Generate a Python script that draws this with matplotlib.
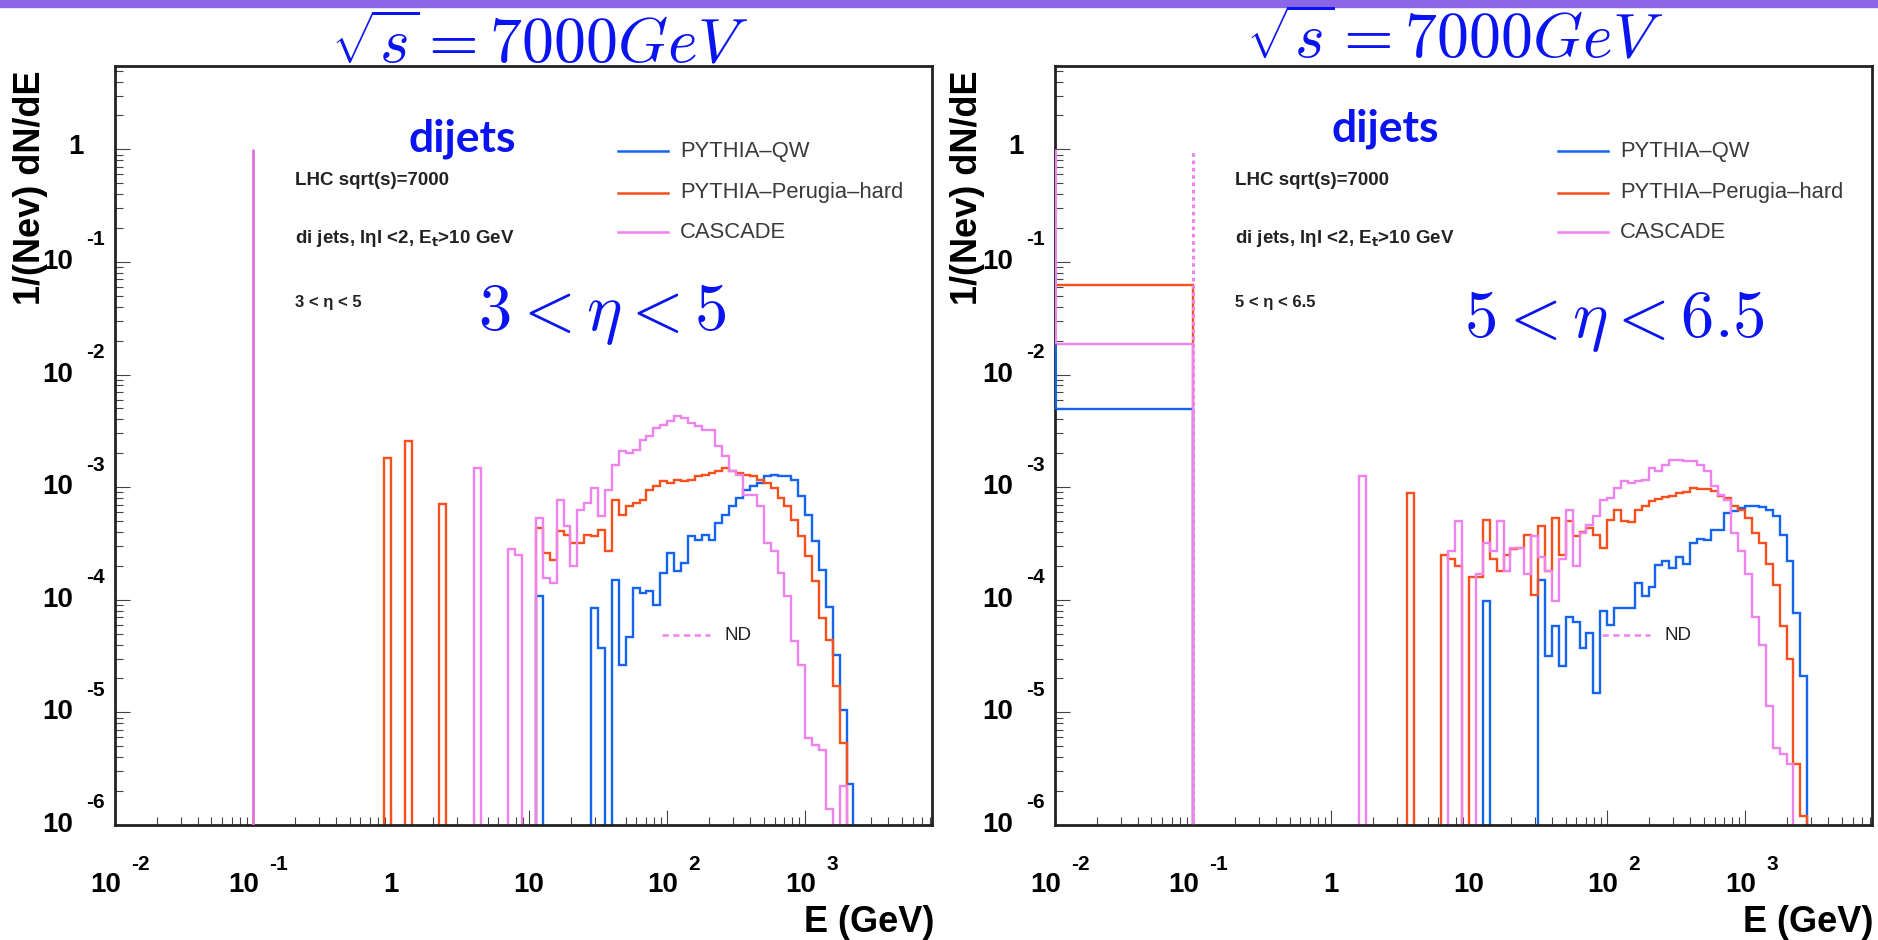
import numpy as np
import matplotlib
matplotlib.use('Agg')
import matplotlib.pyplot as plt
from matplotlib.ticker import LogLocator, NullFormatter
from matplotlib.transforms import offset_copy
from matplotlib.patches import Rectangle

plt.rcParams['font.family'] = ['Liberation Sans', 'DejaVu Sans']

# ---------------------------------------------------------------- data
# binning: 20 bins per decade in log10(E/GeV), from -0.05 to 3.50
log_e_min, log_e_max, n_bins = -0.05, 3.50, 71
edges = np.logspace(log_e_min, log_e_max, n_bins + 1)

# 3 < eta < 5
qw_3_5 = [0, 0, 0, 0, 0, 0, 0, 0, 0, 0,
          0, 0, 0, 0, 0, 0, 0, 0, 0, 0,
          0, 0, 1.07e-4, 0, 0, 0, 0, 0, 0, 0,
          8.4e-5, 3.7e-5, 0, 1.51e-4, 2.64e-5, 4.7e-5, 1.27e-4, 1.15e-4, 1.19e-4, 9.0e-5,
          1.73e-4, 2.6e-4, 1.79e-4, 2.12e-4, 3.66e-4, 3.41e-4, 3.79e-4, 3.41e-4, 4.8e-4, 5.7e-4,
          6.76e-4, 8.0e-4, 9.5e-4, 1.02e-3, 1.09e-3, 1.25e-3, 1.29e-3, 1.25e-3, 1.25e-3, 1.17e-3,
          8.3e-4, 5.7e-4, 3.3e-4, 1.85e-4, 8.7e-5, 3.24e-5, 1.05e-5, 2.3e-6, 0, 0,
          0]
perugia_3_5 = [1.8e-3, 0, 0, 2.55e-3, 0, 0, 0, 0, 7.1e-4, 0,
               0, 0, 0, 0, 0, 0, 0, 0, 0, 0,
               0, 0, 4.34e-4, 2.6e-4, 2.27e-4, 4.05e-4, 3.79e-4, 3.19e-4, 3.19e-4, 3.79e-4,
               3.66e-4, 4.19e-4, 2.69e-4, 7.75e-4, 5.7e-4, 6.76e-4, 7.2e-4, 7.75e-4, 9.5e-4, 1.02e-3,
               1.13e-3, 1.09e-3, 1.17e-3, 1.13e-3, 1.17e-3, 1.25e-3, 1.27e-3, 1.34e-3, 1.38e-3, 1.48e-3,
               1.38e-3, 1.34e-3, 1.29e-3, 1.25e-3, 1.17e-3, 1.09e-3, 9.8e-4, 8.0e-4, 6.76e-4, 5.14e-4,
               3.66e-4, 2.43e-4, 1.46e-4, 6.9e-5, 4.4e-5, 1.7e-5, 5.3e-6, 0, 0, 0,
               0]
cascade_3_5 = [0, 0, 0, 0, 0, 0, 0, 0, 0, 0,
               0, 0, 0, 1.48e-3, 0, 0, 0, 0, 2.8e-4, 2.5e-4,
               0, 0, 5.3e-4, 1.56e-4, 1.41e-4, 7.75e-4, 4.5e-4, 1.98e-4, 6.3e-4, 7.2e-4,
               9.8e-4, 5.5e-4, 9.5e-4, 1.58e-3, 2.08e-3, 2.01e-3, 2.15e-3, 2.64e-3, 2.83e-3, 3.36e-3,
               3.6e-3, 3.85e-3, 4.27e-3, 4.12e-3, 3.72e-3, 3.48e-3, 3.24e-3, 3.24e-3, 2.31e-3, 1.88e-3,
               1.38e-3, 1.29e-3, 8.6e-4, 8.6e-4, 6.76e-4, 3.19e-4, 2.69e-4, 1.73e-4, 1.07e-4, 4.3e-5,
               2.64e-5, 5.9e-6, 5.1e-6, 4.6e-6, 1.4e-6, 0, 2.2e-6, 0, 0, 0,
               0]

# 5 < eta < 6.5
qw_5_65 = [0, 0, 0, 0, 0, 0, 0, 0, 0, 0,
           0, 0, 0, 0, 0, 0, 0, 0, 0, 0,
           0, 0, 0, 9.7e-5, 0, 0, 0, 0, 0, 0,
           0, 1.5e-4, 3.2e-5, 5.8e-5, 2.6e-5, 7.1e-5, 6.4e-5, 3.7e-5, 5.1e-5, 1.5e-5,
           7.9e-5, 6.0e-5, 8.4e-5, 8.4e-5, 8.4e-5, 1.4e-4, 1.07e-4, 1.3e-4, 2.05e-4, 2.2e-4,
           1.9e-4, 2.4e-4, 2.1e-4, 3.2e-4, 3.5e-4, 3.4e-4, 4.2e-4, 4.2e-4, 5.9e-4, 6.1e-4,
           6.5e-4, 6.8e-4, 6.8e-4, 6.7e-4, 6.3e-4, 5.5e-4, 3.8e-4, 2.2e-4, 7.6e-5, 2.1e-5,
           0]
perugia_5_65 = [0, 0, 0, 0, 0, 0, 0, 0, 0, 0,
                0, 0, 8.9e-4, 0, 0, 0, 0, 2.5e-4, 2.3e-4, 2.0e-4,
                0, 1.6e-4, 1.6e-4, 5.1e-4, 2.3e-4, 1.8e-4, 2.5e-4, 2.8e-4, 2.9e-4, 3.8e-4,
                1.1e-4, 4.5e-4, 1.8e-4, 5.3e-4, 2.5e-4, 5.0e-4, 3.7e-4, 4.0e-4, 4.3e-4, 3.8e-4,
                2.9e-4, 5.1e-4, 6.3e-4, 5.0e-4, 4.9e-4, 6.3e-4, 6.8e-4, 7.5e-4, 7.9e-4, 8.2e-4,
                8.3e-4, 8.9e-4, 9.0e-4, 9.8e-4, 9.6e-4, 9.6e-4, 9.2e-4, 8.3e-4, 8.0e-4, 6.8e-4,
                6.3e-4, 5.3e-4, 3.9e-4, 3.2e-4, 2.1e-4, 1.36e-4, 5.8e-5, 3.0e-5, 3.5e-6, 1.2e-6,
                0]
cascade_5_65 = [0, 0, 0, 0, 0, 1.25e-3, 0, 0, 0, 0,
                0, 0, 0, 0, 0, 0, 0, 0, 2.7e-4, 5.0e-4,
                0, 0, 1.7e-4, 3.2e-4, 2.7e-4, 5.0e-4, 1.8e-4, 2.9e-4, 2.9e-4, 1.7e-4,
                3.7e-4, 2.4e-4, 1.8e-4, 9.7e-5, 2.3e-4, 6.3e-4, 2.0e-4, 3.9e-4, 4.6e-4, 5.5e-4,
                7.7e-4, 8.0e-4, 9.8e-4, 1.13e-3, 1.09e-3, 1.13e-3, 1.17e-3, 1.48e-3, 1.38e-3, 1.58e-3,
                1.75e-3, 1.75e-3, 1.70e-3, 1.70e-3, 1.58e-3, 1.38e-3, 1.02e-3, 8.6e-4, 7.7e-4, 3.9e-4,
                2.7e-4, 1.7e-4, 7.1e-5, 4.0e-5, 1.13e-5, 4.8e-6, 4.3e-6, 3.5e-6, 0, 0,
                0]

# lowest bin (E < 0.1 GeV), filled only for 5 < eta < 6.5
low_bin_edges = [0.005, 0.1]
qw_5_65_low = 4.9e-3
perugia_5_65_low = 0.063
cascade_5_65_low = 0.0187

# ND entry: spike at 0.1 GeV
nd_energy = 0.1
nd_peak = 1.0

series_names = ['PYTHIA\u2013QW', 'PYTHIA\u2013Perugia\u2013hard', 'CASCADE']
series_colors = ['#1464f0', '#f5501e', '#ee82ee']

x_tick_exps = [-2, -1, 0, 1, 2, 3]
y_tick_exps = [0, -1, -2, -3, -4, -5, -6]
x_range = (1e-2, 8300)
y_range = (1e-6, 5.5)

eta_small = ['3 < \u03b7 < 5', '5 < \u03b7 < 6.5']
eta_big = [r'$3 < \eta < 5$', r'$5 < \eta < 6.5$']

# ---------------------------------------------------------------- layout
W, H = 1878, 940
fig = plt.figure(figsize=(W / 100, H / 100), dpi=100)
fig.patches.append(Rectangle((0, 1 - 7 / H), 1, 7 / H, transform=fig.transFigure,
                             color='#8b67e8', zorder=0))

AX_TOP, AX_BOT = 66, 825
ax_lefts = [115, 1055]
ax_w = 817

BLUE_TXT = '#0a14f0'
FLOOR = 1e-8
LW = 1.7


def tick_labels(ax):
    xt = ax.get_xaxis_transform()
    yt = ax.get_yaxis_transform()
    for e in x_tick_exps:
        x = 10.0 ** e
        if e in (0, 1):
            ax.text(x, 0, '1' if e == 0 else '10', fontsize=20, fontweight='bold',
                    ha='center', va='center',
                    transform=offset_copy(xt, fig, x=0, y=-60, units='dots'))
        else:
            dx = 6 if e < 0 else 11
            ax.text(x, 0, '10', fontsize=20, fontweight='bold', ha='right', va='center',
                    transform=offset_copy(xt, fig, x=dx, y=-60, units='dots'))
            ax.text(x, 0, str(e), fontsize=15, fontweight='bold', ha='left', va='center',
                    transform=offset_copy(xt, fig, x=dx + 10, y=-39, units='dots'))
    for e in y_tick_exps:
        y = 10.0 ** e
        if e == 0:
            ax.text(0, y, '1', fontsize=20, fontweight='bold', ha='center', va='center',
                    transform=offset_copy(yt, fig, x=-39, y=2, units='dots'))
        else:
            ax.text(0, y, '10', fontsize=20, fontweight='bold', ha='right', va='center',
                    transform=offset_copy(yt, fig, x=-42, y=0, units='dots'))
            ax.text(0, y, str(e), fontsize=15, fontweight='bold', ha='left', va='center',
                    transform=offset_copy(yt, fig, x=-29, y=22, units='dots'))


def draw_panel(i, qw, perugia, cascade, low=None):
    left = ax_lefts[i]
    ax = fig.add_axes([left / W, (H - AX_BOT) / H, ax_w / W, (AX_BOT - AX_TOP) / H])
    ax.set_xscale('log')
    ax.set_yscale('log')

    for vals, col in zip([qw, perugia, cascade], series_colors):
        v = np.clip(np.asarray(vals, dtype=float), FLOOR, None)
        ax.stairs(v, edges, baseline=FLOOR, color=col, lw=LW, zorder=2)

    if low is not None:
        for val, col in zip(low, series_colors):
            ax.stairs([val], low_bin_edges, baseline=FLOOR, color=col, lw=LW, zorder=2)
        # left edge of the first bin, drawn over the frame
        ax.vlines(x_range[0], low[0], low[2], color=series_colors[0], lw=LW + 0.5, zorder=4)
        ax.vlines(x_range[0], low[2], nd_peak, color=series_colors[2], lw=LW + 0.5, zorder=4)
        ax.vlines(nd_energy, FLOOR, nd_peak, color=series_colors[2], lw=2.2,
                  linestyles=(0, (1.2, 1.2)), zorder=3)
    else:
        ax.vlines(nd_energy, FLOOR, nd_peak, color='#e070e0', lw=2.0, zorder=3)

    ax.set_xlim(*x_range)
    ax.set_ylim(*y_range)

    ax.xaxis.set_major_locator(LogLocator(base=10, numticks=20))
    ax.xaxis.set_minor_locator(LogLocator(base=10, subs=np.arange(2, 10), numticks=20))
    ax.yaxis.set_major_locator(LogLocator(base=10, numticks=20))
    ax.yaxis.set_minor_locator(LogLocator(base=10, subs=np.arange(2, 10), numticks=20))
    for a in (ax.xaxis, ax.yaxis):
        a.set_major_formatter(NullFormatter())
        a.set_minor_formatter(NullFormatter())
    ax.tick_params(which='both', direction='in', top=False, right=False,
                   color='#444444', width=0.8)
    ax.tick_params(which='major', length=10.5)
    ax.tick_params(which='minor', length=5.5)
    for s in ax.spines.values():
        s.set_linewidth(2.0)
        s.set_color('#222222')

    tick_labels(ax)

    # legend
    leg_y = [0.888, 0.8327, 0.7810]
    for name, col, y in zip(series_names, series_colors, leg_y):
        ax.plot([0.6157, 0.6769], [y, y], color=col, lw=1.8, transform=ax.transAxes)
        ax.text(0.692, y, name, fontsize=15.8, color='#3a3a3a', ha='left', va='center',
                transform=ax.transAxes)
    ax.plot([0.6695, 0.7283], [0.2503, 0.2503], color=series_colors[2], lw=1.8,
            ls=(0, (2.5, 1.8)), transform=ax.transAxes)
    ax.text(0.7466, 0.2503, 'ND', fontsize=13.5, color='#222222', ha='left', va='center',
            transform=ax.transAxes)

    # annotations
    ax.text(0.2203, 0.843, 'LHC sqrt(s)=7000', fontsize=13.5, fontweight='bold',
            color='#222222', transform=ax.transAxes, va='baseline')
    ax.text(0.2203, 0.767, 'di jets, l\u03b7l <2, E$_{\\mathbf{t}}$>10 GeV', fontsize=13.5,
            fontweight='bold', color='#222222', transform=ax.transAxes, va='baseline',
            math_fontfamily='dejavusans')
    ax.text(0.2203, 0.683, eta_small[i], fontsize=12, fontweight='bold',
            color='#222222', transform=ax.transAxes, va='baseline')

    dj = [(0.425, 0.8867), (0.404, 0.8999)][i]
    ax.text(dj[0], dj[1], 'dijets', fontsize=32, fontweight='bold', family='Lato',
            color=BLUE_TXT, ha='center', va='baseline', transform=ax.transAxes)
    be = [(0.444, 0.652), (0.501, 0.643)][i]
    ax.text(be[0], be[1], eta_big[i], fontsize=48, color=BLUE_TXT, ha='left', va='baseline',
            math_fontfamily='cm', transform=ax.transAxes)
    return ax


draw_panel(0, qw_3_5, perugia_3_5, cascade_3_5)
draw_panel(1, qw_5_65, perugia_5_65, cascade_5_65,
           low=[qw_5_65_low, perugia_5_65_low, cascade_5_65_low])

# titles and axis titles
for x, yb in [(0.2875, 0.934), (0.7748, 0.9383)]:
    fig.text(x, yb, r'$\sqrt{s} = 7000 GeV$', fontsize=46, color=BLUE_TXT,
             ha='center', va='baseline', math_fontfamily='cm')
for x in [0.0165, 0.5154]:
    fig.text(x, 0.9255, '1/(Nev) dN/dE', rotation=90, fontsize=26, fontweight='bold',
             ha='center', va='top')
for x in [0.4973, 0.9973]:
    fig.text(x, 0.0191, 'E (GeV)', fontsize=26, fontweight='bold', ha='right', va='center')

fig.savefig('out.png', dpi=100)
